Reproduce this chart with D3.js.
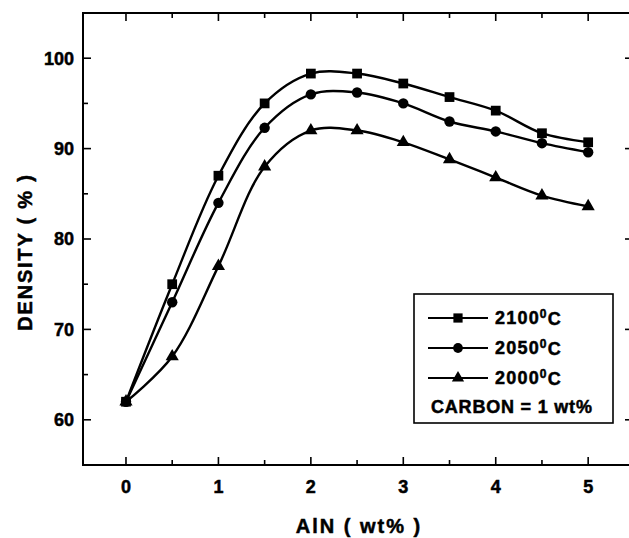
<!DOCTYPE html>
<html>
<head>
    <meta charset="utf-8">
    <title>Density vs AlN</title>
    <style>
        body { margin: 0; background: #fff; }
        svg text { font-family: "Liberation Sans", Arial, sans-serif; font-weight: bold; fill: #000;
                   stroke: #000; stroke-width: 0.5px; }
    </style>
</head>
<body>
<script src="https://d3js.org/d3.v7.min.js"></script>
<div id="chart"></div>
<script>
    // data
    const alnContent = [0, 0.5, 1, 1.5, 2, 2.5, 3, 3.5, 4, 4.5, 5];
    const density2100 = [62, 75, 87, 95, 98.3, 98.3, 97.2, 95.7, 94.2, 91.7, 90.7];
    const density2050 = [62, 73, 84, 92.3, 96, 96.2, 95, 93, 91.9, 90.6, 89.6];
    const density2000 = [62, 67, 77, 88, 92, 92, 90.7, 88.8, 86.8, 84.8, 83.6];
    const seriesNames = ["2100", "2050", "2000"];
    const xTicks = [0, 1, 2, 3, 4, 5];
    const yTicks = [60, 70, 80, 90, 100];

    const series = [
        {name: seriesNames[0], values: density2100, symbol: d3.symbolSquare, size: 95},
        {name: seriesNames[1], values: density2050, symbol: d3.symbolCircle, size: 85},
        {name: seriesNames[2], values: density2000, symbol: d3.symbolTriangle, size: 75}
    ];

    const W = 629, H = 538;
    // plot frame (right edge runs off the page like in the scan)
    const frame = {left: 83, top: 13, right: 633, bottom: 465};

    const svg = d3.select("#chart").append("svg")
        .attr("width", W).attr("height", H);

    const x = d3.scaleLinear().domain([-0.465, 5.485]).range([frame.left, frame.right]);
    const y = d3.scaleLinear().domain([55, 105]).range([frame.bottom, frame.top]);

    // frame
    svg.append("rect")
        .attr("x", frame.left).attr("y", frame.top)
        .attr("width", frame.right - frame.left).attr("height", frame.bottom - frame.top)
        .attr("fill", "none").attr("stroke", "#000").attr("stroke-width", 2);

    // ticks, all pointing inwards
    const xMinor = d3.range(0.5, 5, 1);
    const yMinor = d3.range(65, 100, 10);
    const tickG = svg.append("g").attr("stroke", "#000").attr("stroke-width", 1.6);
    xTicks.forEach(v => {
        tickG.append("line").attr("x1", x(v)).attr("x2", x(v)).attr("y1", frame.bottom).attr("y2", frame.bottom - 8);
        tickG.append("line").attr("x1", x(v)).attr("x2", x(v)).attr("y1", frame.top).attr("y2", frame.top + 8);
    });
    xMinor.forEach(v => {
        tickG.append("line").attr("x1", x(v)).attr("x2", x(v)).attr("y1", frame.bottom).attr("y2", frame.bottom - 5);
        tickG.append("line").attr("x1", x(v)).attr("x2", x(v)).attr("y1", frame.top).attr("y2", frame.top + 5);
    });
    yTicks.forEach(v => {
        tickG.append("line").attr("x1", frame.left).attr("x2", frame.left + 8).attr("y1", y(v)).attr("y2", y(v));
        tickG.append("line").attr("x1", frame.right).attr("x2", frame.right - 8).attr("y1", y(v)).attr("y2", y(v));
    });
    yMinor.forEach(v => {
        tickG.append("line").attr("x1", frame.left).attr("x2", frame.left + 5).attr("y1", y(v)).attr("y2", y(v));
    });

    // tick labels
    svg.append("g").selectAll("text").data(xTicks).join("text")
        .attr("x", d => x(d)).attr("y", frame.bottom + 28)
        .attr("text-anchor", "middle").attr("font-size", 18)
        .text(d => d);
    svg.append("g").selectAll("text").data(yTicks).join("text")
        .attr("x", frame.left - 9).attr("y", d => y(d))
        .attr("dy", "0.36em")
        .attr("text-anchor", "end").attr("font-size", 18)
        .text(d => d);

    // axis titles
    svg.append("text")
        .attr("x", (frame.left + frame.right) / 2 + 1).attr("y", 533)
        .attr("text-anchor", "middle").attr("font-size", 20)
        .attr("letter-spacing", 2)
        .text("AlN ( wt% )");
    svg.append("text")
        .attr("transform", "translate(32,252) rotate(-90)")
        .attr("text-anchor", "middle").attr("font-size", 20)
        .attr("letter-spacing", 1.8)
        .text("DENSITY ( % )");

    // curves
    const line = d3.line()
        .x((d, i) => x(alnContent[i]))
        .y(d => y(d))
        .curve(d3.curveCatmullRom.alpha(0.5));

    series.forEach(s => {
        svg.append("path")
            .attr("d", line(s.values))
            .attr("fill", "none").attr("stroke", "#000").attr("stroke-width", 2.4);
        svg.append("g").selectAll("path").data(s.values).join("path")
            .attr("transform", (d, i) => `translate(${x(alnContent[i])},${y(d)})`)
            .attr("d", d3.symbol().type(s.symbol).size(s.size))
            .attr("fill", "#000");
    });

    // legend
    const lg = svg.append("g").attr("transform", "translate(414,294)");
    lg.append("rect").attr("width", 199).attr("height", 129)
        .attr("fill", "#fff").attr("stroke", "#000").attr("stroke-width", 1.6);
    series.forEach((s, i) => {
        const ly = 24 + i * 30;
        lg.append("line").attr("x1", 14).attr("x2", 74).attr("y1", ly).attr("y2", ly)
            .attr("stroke", "#000").attr("stroke-width", 2);
        lg.append("path").attr("transform", `translate(44,${ly})`)
            .attr("d", d3.symbol().type(s.symbol).size(s.size - 10)).attr("fill", "#000");
        const t = lg.append("text").attr("x", 81).attr("y", ly).attr("dy", "0.36em")
            .attr("font-size", 18).attr("letter-spacing", 1.2);
        t.append("tspan").text(s.name);
        t.append("tspan").attr("font-size", 12).attr("dy", "-0.55em").text("0");
        t.append("tspan").attr("dy", "0.37em").text("C");
    });
    lg.append("text").attr("x", 17).attr("y", 119)
        .attr("font-size", 18).attr("letter-spacing", 0.8)
        .text("CARBON = 1 wt%");
</script>
</body>
</html>
